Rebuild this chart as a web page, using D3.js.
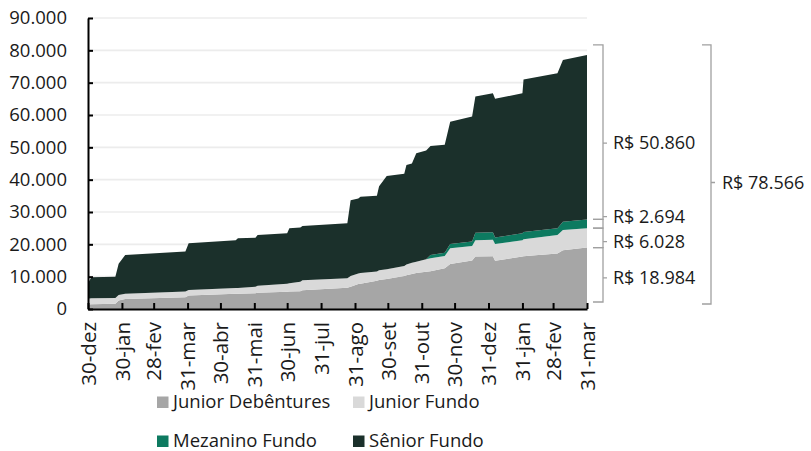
<!DOCTYPE html>
<html>
<head>
<meta charset="utf-8">
<script src="https://cdn.jsdelivr.net/npm/d3@7"></script>
<style>
  html, body { margin: 0; padding: 0; background: #ffffff; }
  svg { display: block; }
  text { font-family: "Open Sans", "Liberation Sans", Arial, sans-serif; fill: #1a1a1a; }
</style>
</head>
<body>
<svg id="chart" width="811" height="451"></svg>
<script>
// ---------------- DATA ----------------
const dates = [
  "2020-12-30","2021-01-02","2021-01-24","2021-01-27","2021-02-02","2021-03-29","2021-04-01",
  "2021-05-14","2021-05-16","2021-06-01","2021-06-03","2021-06-30","2021-07-02","2021-07-12",
  "2021-07-14","2021-08-24","2021-08-27","2021-09-03","2021-09-05","2021-09-20","2021-09-22",
  "2021-09-29","2021-10-15","2021-10-17","2021-10-22","2021-10-26","2021-11-04","2021-11-08",
  "2021-11-21","2021-11-26","2021-12-16","2021-12-19","2022-01-04","2022-01-06","2022-01-31",
  "2022-02-01","2022-03-04","2022-03-09","2022-03-31"
];
const juniorDebentures = [1400,1500,1600,2600,3100,3600,4200,4700,4700,4900,5000,5300,5400,5500,5800,6600,6900,7700,7800,8700,9000,9300,10200,10400,10800,11100,11500,11700,12600,13900,15000,16200,16300,14900,16200,16300,17200,18200,18984];
const juniorFundo = [1800,1800,1800,1700,1600,1800,1700,1800,1800,2000,2200,2500,2600,2900,3100,2900,3300,3300,3300,2900,3000,3000,3100,3400,3500,3500,3900,4000,3800,4900,4500,5100,5100,5200,5100,5300,5700,6200,6028];
const mezaninoFundo = [0,0,0,0,0,0,0,0,0,0,0,0,0,0,0,0,0,0,0,0,0,0,0,0,0,0,0,1000,1000,1300,1400,2300,2300,2000,2100,2200,2100,2600,2694];
const seniorFundo = [4800,6500,6600,9700,12000,12400,14400,14800,15400,15100,15700,15600,17000,16800,16800,17000,23400,23200,23600,23400,26000,28800,28500,30700,30700,33600,33600,33700,33400,37800,38600,42100,43000,42900,43300,47200,47900,50000,50860];

const seriesNames = ["Junior Debêntures","Junior Fundo","Mezanino Fundo","Sênior Fundo"];
const seriesColors = ["#a6a6a6","#d9d9d9","#0d7a60","#1b302b"];

const xTickDates = ["2020-12-30","2021-01-30","2021-02-28","2021-03-31","2021-04-30","2021-05-31","2021-06-30","2021-07-31","2021-08-31","2021-09-30","2021-10-31","2021-11-30","2021-12-31","2022-01-31","2022-02-28","2022-03-31"];
const xTickLabels = ["30-dez","30-jan","28-fev","31-mar","30-abr","31-mai","30-jun","31-jul","31-ago","30-set","31-out","30-nov","31-dez","31-jan","28-fev","31-mar"];
const yTicks = [0,10000,20000,30000,40000,50000,60000,70000,80000,90000];

// ---------------- BUILD ----------------
(function () {
const parse = d3.utcParse("%Y-%m-%d");
const rows = dates.map((d, i) => ({
  date: parse(d),
  "Junior Debêntures": juniorDebentures[i],
  "Junior Fundo": juniorFundo[i],
  "Mezanino Fundo": mezaninoFundo[i],
  "Sênior Fundo": seniorFundo[i]
}));

const locale = d3.formatLocale({decimal: ",", thousands: ".", grouping: [3], currency: ["R$ ", ""]});
const fmt = locale.format(",.0f");

const svg = d3.select("#chart");
const pLeft = 88, pRight = 587, pTop = 18, pBottom = 309;

const x = d3.scaleUtc().domain([parse(xTickDates[0]), parse(xTickDates[xTickDates.length - 1])]).range([pLeft, pRight]);
const y = d3.scaleLinear().domain([0, 90000]).range([pBottom, pTop]);

// gridlines
svg.append("g").selectAll("line").data(yTicks.filter(t => t > 0)).join("line")
  .attr("x1", pLeft + 1).attr("x2", pRight)
  .attr("y1", d => y(d)).attr("y2", d => y(d))
  .attr("stroke", "#ececec").attr("stroke-width", 1.6);

// stacked areas
const stack = d3.stack().keys(seriesNames);
const layers = stack(rows);
const area = d3.area()
  .x(d => x(d.data.date))
  .y0(d => y(d[0]))
  .y1(d => y(d[1]));
svg.append("g").selectAll("path").data(layers).join("path")
  .attr("d", area)
  .attr("fill", (d, i) => seriesColors[i]);

// y axis
const yAxis = d3.axisLeft(y).tickValues(yTicks).tickFormat(fmt)
  .tickSizeInner(-5).tickSizeOuter(0).tickPadding(21);
const gy = svg.append("g").attr("transform", `translate(${pLeft},0)`).call(yAxis);
gy.select(".domain").attr("stroke", "#000").attr("stroke-width", 2);
gy.selectAll(".tick line").attr("stroke", "#000").attr("stroke-width", 2);
gy.selectAll(".tick text").attr("font-size", "18.5px").attr("font-family", "Open Sans").attr("fill", "#1a1a1a");

// x axis
const xAxis = d3.axisBottom(x).tickValues(xTickDates.map(parse))
  .tickFormat((d, i) => xTickLabels[i])
  .tickSizeInner(-6).tickSizeOuter(0);
const gx = svg.append("g").attr("transform", `translate(0,${pBottom})`).call(xAxis);
gx.select(".domain").attr("stroke", "#000").attr("stroke-width", 2);
gx.selectAll(".tick line").attr("stroke", "#000").attr("stroke-width", 2);
gx.selectAll(".tick text")
  .attr("font-size", "20.5px").attr("font-family", "Open Sans").attr("fill", "#1a1a1a")
  .attr("text-anchor", "end")
  .attr("transform", "rotate(-90)")
  .attr("x", -13).attr("y", 0).attr("dy", "0.35em");

// ---------------- BRACKETS ----------------
const last = layers.map(l => l[l.length - 1]);
const total = last[last.length - 1][1];
const bracketTop = y(total) - 10;
const bracketBottom = y(0) - 7;
const labelNudge = [3, 3.8, -7.2, 11];
const bg = svg.append("g").attr("fill", "none").attr("stroke", "#a0a0a0").attr("stroke-width", 1.3);
const bx0 = 593, bx1 = 603, bxt = 607, lx = 613;
last.forEach((seg, i) => {
  const yHi = i === last.length - 1 ? bracketTop : y(seg[1]);
  const yLo = i === 0 ? bracketBottom : y(seg[0]);
  const yMid = (yHi + yLo) / 2 + labelNudge[i];
  bg.append("path").attr("d", `M${bx0},${yHi}H${bx1}V${yLo}H${bx0}M${bx1},${yMid}H${bxt}`);
  svg.append("text").attr("x", lx).attr("y", yMid).attr("dy", "0.35em")
    .attr("font-size", "18px").text("R$ " + fmt(seg[1] - seg[0]));
});
// total bracket
{
  const yHi = bracketTop, yLo = y(0) - 5;
  const yMid = (yHi + yLo) / 2 + 8;
  bg.append("path").attr("d", `M702,${yHi}H711V${yLo}H702M711,${yMid}H715`);
  svg.append("text").attr("x", 722).attr("y", yMid).attr("dy", "0.35em")
    .attr("font-size", "18px").text("R$ " + fmt(total));
}

// ---------------- LEGEND ----------------
const legendPos = [[157, 402], [353, 402], [157, 441], [353, 441]];
const lg = svg.append("g");
seriesNames.forEach((name, i) => {
  const [lxp, lyp] = legendPos[i];
  lg.append("rect").attr("x", lxp).attr("y", lyp - 5.5).attr("width", 11.5).attr("height", 11.5)
    .attr("fill", seriesColors[i]);
  lg.append("text").attr("x", lxp + 16).attr("y", lyp).attr("dy", "0.35em")
    .attr("font-size", "18.5px").text(name);
});
})();
</script>
</body>
</html>
